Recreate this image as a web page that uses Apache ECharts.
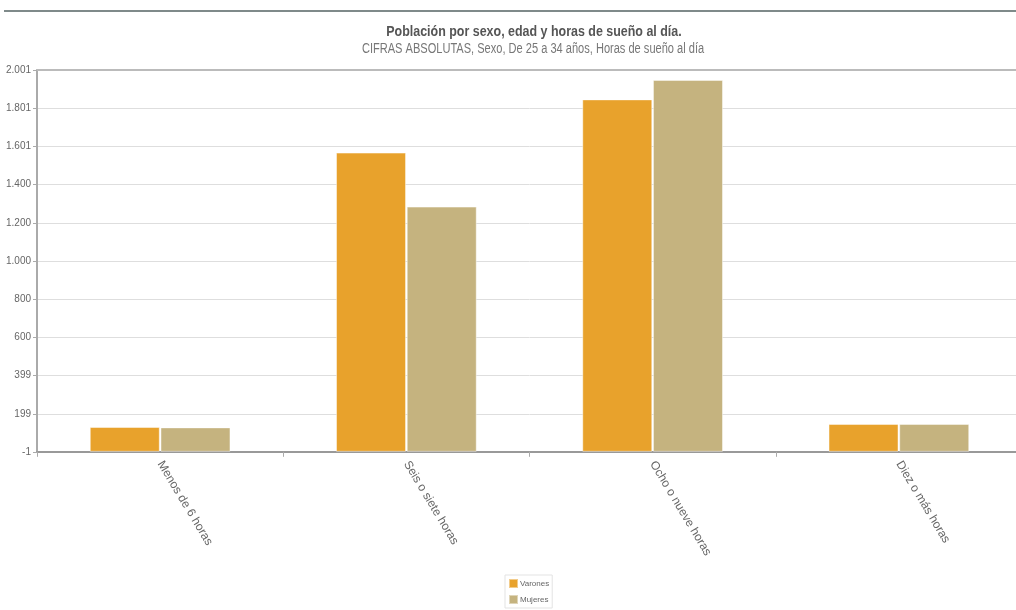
<!DOCTYPE html>
<html>
<head>
<meta charset="utf-8">
<script src="https://cdn.jsdelivr.net/npm/echarts@6/dist/echarts.min.js"></script>
<style>
html,body{margin:0;padding:0;background:#fff;overflow:hidden;width:1016px;height:610px;}
#chart{width:1026px;height:610px;}
</style>
</head>
<body>
<div id="chart"></div>
<script>
var titleText = 'Población por sexo, edad y horas de sueño al día.';
var subtitleText = 'CIFRAS ABSOLUTAS, Sexo, De 25 a 34 años, Horas de sueño al día';
var categories = ['Menos de 6 horas', 'Seis o siete horas', 'Ocho o nueve horas', 'Diez o más horas'];
var seriesNames = ['Varones', 'Mujeres'];
var varones = [130, 1568, 1847, 146];
var mujeres = [128, 1285, 1949, 146];
var yTickLabels = ['-1', '199', '399', '600', '800', '1.000', '1.200', '1.400', '1.601', '1.801', '2.001'];
var yMin = -1, yMax = 2001, yInterval = 200.2;

var FONT = "'Liberation Sans', Arial, sans-serif";
var chart = echarts.init(document.getElementById('chart'));
chart.setOption({
  animation: false,
  backgroundColor: '#ffffff',
  textStyle: {fontFamily: FONT},
  graphic: [
    {type: 'rect', shape: {x: 4, y: 10, width: 1012, height: 2}, style: {fill: '#7f8a8a'}},
    {type: 'text', x: 534, y: 24, scaleX: 0.83, originX: 0, originY: 0,
     style: {text: titleText, textAlign: 'center', textVerticalAlign: 'top',
             font: 'bold 15px ' + FONT, fill: '#555'}},
    {type: 'text', x: 533, y: 42, scaleX: 0.79, originX: 0, originY: 0,
     style: {text: subtitleText, textAlign: 'center', textVerticalAlign: 'top',
             font: 'normal 14px ' + FONT, fill: '#777'}}
  ],
  legend: {
    data: seriesNames,
    orient: 'vertical',
    left: 505, top: 575,
    itemWidth: 9, itemHeight: 9, itemGap: 5,
    padding: [3, 3, 3, 3],
    borderColor: '#e3e3e3', borderWidth: 1,
    icon: 'rect',
    textStyle: {fontFamily: FONT, fontSize: 8, color: '#666', padding: [0, 0, 0, -3]}
  },
  grid: {left: 37, top: 70, width: 985, height: 382, containLabel: false},
  xAxis: [{
    type: 'category',
    data: categories,
    axisLine: {lineStyle: {color: '#999', width: 2}},
    axisTick: {show: true, length: 5, lineStyle: {color: '#aaa'}},
    axisLabel: {rotate: -59, fontSize: 12, color: '#666', margin: 10, fontFamily: FONT}
  }, {
    type: 'category',
    position: 'top',
    data: categories,
    axisLine: {show: true, lineStyle: {color: '#bbb', width: 2}},
    axisTick: {show: false},
    axisLabel: {show: false}
  }],
  yAxis: {
    type: 'value',
    min: yMin, max: yMax, interval: yInterval,
    axisLine: {show: true, lineStyle: {color: '#aaa', width: 2}},
    axisTick: {show: true, length: 4, lineStyle: {color: '#aaa'}},
    splitLine: {lineStyle: {color: '#dedede', width: 1}},
    axisLabel: {fontSize: 10, color: '#666', margin: 6, fontFamily: FONT,
      formatter: function (v, i) { return yTickLabels[i] !== undefined ? yTickLabels[i] : ''; }}
  },
  series: [
    {name: seriesNames[0], type: 'bar', data: varones, barWidth: 70, barGap: '1%',
     itemStyle: {color: '#e8a22c', borderColor: 'rgba(255,255,255,0.45)', borderWidth: 1}},
    {name: seriesNames[1], type: 'bar', data: mujeres, barWidth: 70,
     itemStyle: {color: '#c5b37f', borderColor: 'rgba(255,255,255,0.45)', borderWidth: 1}}
  ]
});
</script>
</body>
</html>
